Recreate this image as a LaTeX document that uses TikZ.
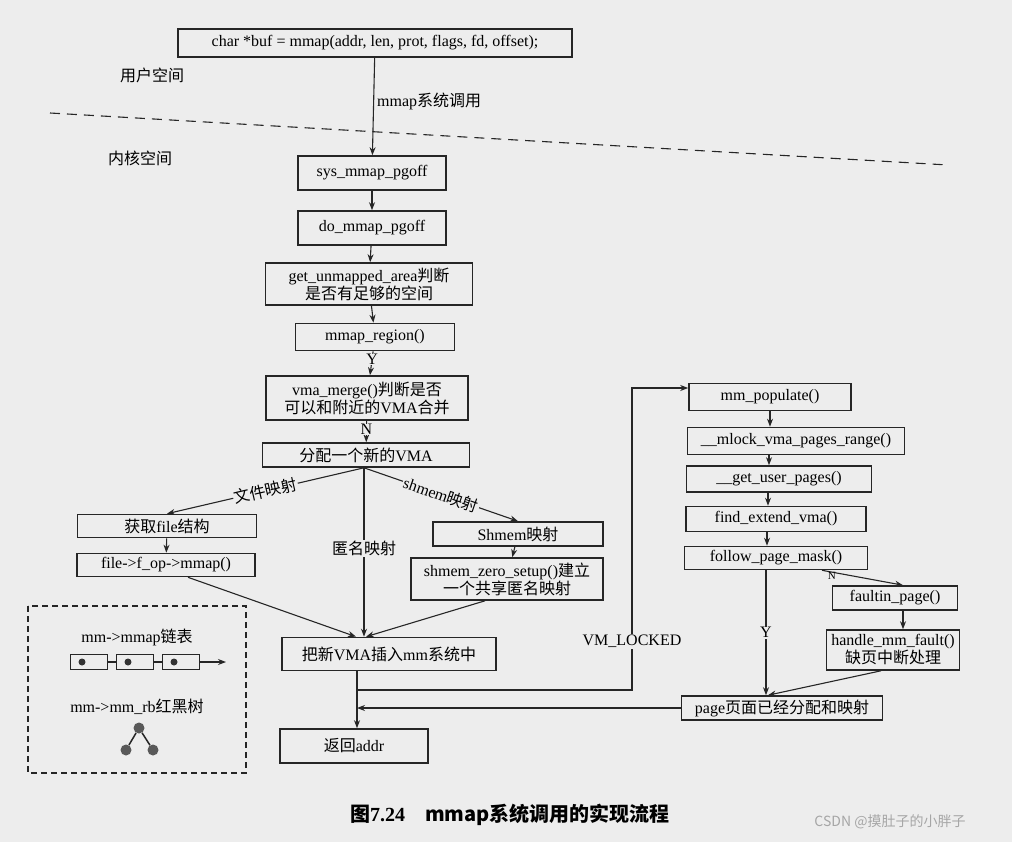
\documentclass[tikz,border=0pt]{standalone}
\usepackage{fontspec}
\setmainfont{Liberation Serif}
\newfontfamily\cjk{Noto Sans CJK SC}
\usetikzlibrary{arrows.meta}
\begin{document}
\begin{tikzpicture}[x=1pt,y=-1pt,
  box/.style={draw=black!85,line width=1.6pt,inner sep=0pt,align=center,font=\fontsize{16}{18}\selectfont},
  lbl/.style={font=\fontsize{16}{18}\selectfont,inner sep=1pt},
  arr/.style={-{Stealth[length=8pt,width=6pt]},line width=1.1pt,draw=black!85},
  ln/.style={line width=1.1pt,draw=black!85}]
\fill[gray!14] (0,0) rectangle (1012,842);
\useasboundingbox (0,0) rectangle (1012,842);
% user / kernel
\node[box,minimum width=394,minimum height=28] (top) at (375,43) {char *buf = mmap(addr, len, prot, flags, fd, offset);};
\node[lbl] (us) at (152,75) {\cjk 用户空间};
\node[lbl] (ks) at (140,158) {\cjk 内核空间};
\coordinate (d1) at (50,113); \coordinate (d2) at (948,165);
\draw[ln,dashed,dash pattern=on 10pt off 7pt] (d1) -- (d2);
\node[box,minimum width=148,minimum height=34] (sys) at (372,173) {sys\_mmap\_pgoff};
\node[box,minimum width=148,minimum height=34] (do) at (372,228) {do\_mmap\_pgoff};
\node[box,minimum width=207,minimum height=42] (gua) at (369,284) {get\_unmapped\_area{\cjk 判断}\\{\cjk 是否有足够的空间}};
\node[box,minimum width=159,minimum height=27] (mr) at (375,337) {mmap\_region()};
\node[box,minimum width=202,minimum height=44] (vm) at (367,398) {vma\_merge(){\cjk 判断是否}\\{\cjk 可以和附近的}VMA{\cjk 合并}};
\node[box,minimum width=207,minimum height=24] (new) at (366,455) {{\cjk 分配一个新的}VMA};
\draw[arr] (top) -- node[lbl,right=2pt,pos=0.45]{mmap{\cjk 系统调用}} (sys);
\draw[arr] (sys) -- (do);
\draw[arr] (do) -- (gua);
\draw[arr] (gua) -- (mr);
\draw[arr] (mr) -- node[lbl,pos=0.35,fill=gray!14,inner sep=0pt]{Y} (vm);
\draw[arr] (vm) -- node[lbl,pos=0.4,fill=gray!14,inner sep=0pt]{N} (new);
% branches
\node[box,minimum width=179,minimum height=23] (gf) at (167,526) {{\cjk 获取}file{\cjk 结构}};
\node[box,minimum width=178,minimum height=23] (fop) at (166,565) {file->f\_op->mmap()};
\node[box,minimum width=170,minimum height=24] (shm) at (518,534) {Shmem{\cjk 映射}};
\node[box,minimum width=192,minimum height=42] (szs) at (507,579) {shmem\_zero\_setup(){\cjk 建立}\\{\cjk 一个共享匿名映射}};
\node[box,minimum width=214,minimum height=33] (ins) at (389,654) {{\cjk 把新}VMA{\cjk 插入}mm{\cjk 系统中}};
\node[box,minimum width=148,minimum height=34] (ret) at (354,746) {{\cjk 返回}addr};
\draw[arr] ([xshift=-2pt]new.south) -- node[lbl,pos=0.5,fill=gray!14,sloped]{\cjk 文件映射} (gf.north);
\draw[arr] ([xshift=-2pt]new.south) -- node[lbl,pos=0.48,fill=gray!14]{\cjk 匿名映射} (ins.north -| 364,0);
\draw[arr] ([xshift=-2pt]new.south) -- node[lbl,pos=0.5,fill=gray!14,sloped]{shmem{\cjk 映射}} (shm.north);
\draw[arr] (gf) -- (fop);
\draw[arr] (shm) -- (szs);
\draw[arr] ([xshift=22pt]fop.south) -- ([xshift=-33pt]ins.north);
\draw[arr] ([xshift=-22pt]szs.south) -- ([xshift=-23pt]ins.north);
\coordinate (j1) at (357,690);
\coordinate (j2) at (357,708);
\draw[arr] (ins.south -| 357,0) -- (ret.north -| 357,0);
% legend
\draw[ln,dashed,dash pattern=on 6pt off 4pt] (28,606) rectangle (246,773);
\node[lbl] (ll) at (137,637) {mm->mmap{\cjk 链表}};
\foreach \i/\x in {1/89,2/135,3/181}{
  \node[draw=black!85,line width=1.4pt,minimum width=37,minimum height=15,inner sep=0] (c\i) at (\x,662) {};
  \fill[black!80] (\x-7,662) circle (3.5);
}
\draw[ln] (c1) -- (c2); \draw[ln] (c2) -- (c3);
\coordinate (lend) at (226,662);
\draw[arr] (c3) -- (lend);
\node[lbl] (rb) at (137,707) {mm->mm\_rb{\cjk 红黑树}};
\node[circle,fill=black!65,inner sep=0,minimum size=11] (t1) at (139,728) {};
\node[circle,fill=black!65,inner sep=0,minimum size=11] (t2) at (126,750) {};
\node[circle,fill=black!65,inner sep=0,minimum size=11] (t3) at (153,750) {};
\draw[ln,line width=1.5pt] (t1) -- (t2); \draw[ln,line width=1.5pt] (t1) -- (t3);
% right column
\node[box,minimum width=162,minimum height=27] (pop) at (770,397) {mm\_populate()};
\node[box,minimum width=217,minimum height=27] (ml) at (796,441) {\_\_mlock\_vma\_pages\_range()};
\node[box,minimum width=185,minimum height=26] (gup) at (779,479) {\_\_get\_user\_pages()};
\node[box,minimum width=180,minimum height=25] (fev) at (776,519) {find\_extend\_vma()};
\node[box,minimum width=183,minimum height=23] (fpm) at (776,558) {follow\_page\_mask()};
\node[box,minimum width=125,minimum height=24] (fp) at (895,598) {faultin\_page()};
\node[box,minimum width=133,minimum height=40] (hmf) at (893,650) {handle\_mm\_fault()\\{\cjk 缺页中断处理}};
\node[box,minimum width=201,minimum height=24] (pg) at (782,708) {page{\cjk 页面已经分配和映射}};
\draw[arr] (pop.south -| 770,0) -- (ml.north -| 770,0);
\draw[arr] (ml.south -| 769,0) -- (gup.north -| 769,0);
\draw[arr] (gup.south -| 768,0) -- (fev.north -| 768,0);
\draw[arr] (fev.south -| 767,0) -- (fpm.north -| 767,0);
\draw[arr] (fpm.south -| 766,0) -- node[lbl,pos=0.5,fill=gray!14]{Y} (pg.north -| 766,0);
\draw[arr] (fpm.south -| 822,0) -- node[lbl,pos=0.12,below,inner sep=0pt,font=\fontsize{11}{11}\selectfont]{N} (fp.north -| 903,0) ;
\draw[arr] (fp.south -| 903,0) -- (hmf.north -| 903,0);
\draw[arr] ([xshift=-12pt]hmf.south) -- (pg.north -| 768,0);
% loops
\draw[arr] (j1) -- (632,690) -- node[lbl,pos=0.16,fill=gray!14]{VM\_LOCKED} (632,388) -- (pop.west |- 0,388);
\draw[arr] (pg.west) -- (j2);
% caption
\node[font=\bfseries\fontsize{20}{22}\selectfont] (cap) at (510,815) {{\cjk 图}7.24\quad {\cjk mmap系统调用的实现流程}};
\node[text=gray!70,font=\fontsize{14}{15}\selectfont] (wm) at (890,822) {\cjk CSDN @摸肚子的小胖子};
\end{tikzpicture}
\end{document}
